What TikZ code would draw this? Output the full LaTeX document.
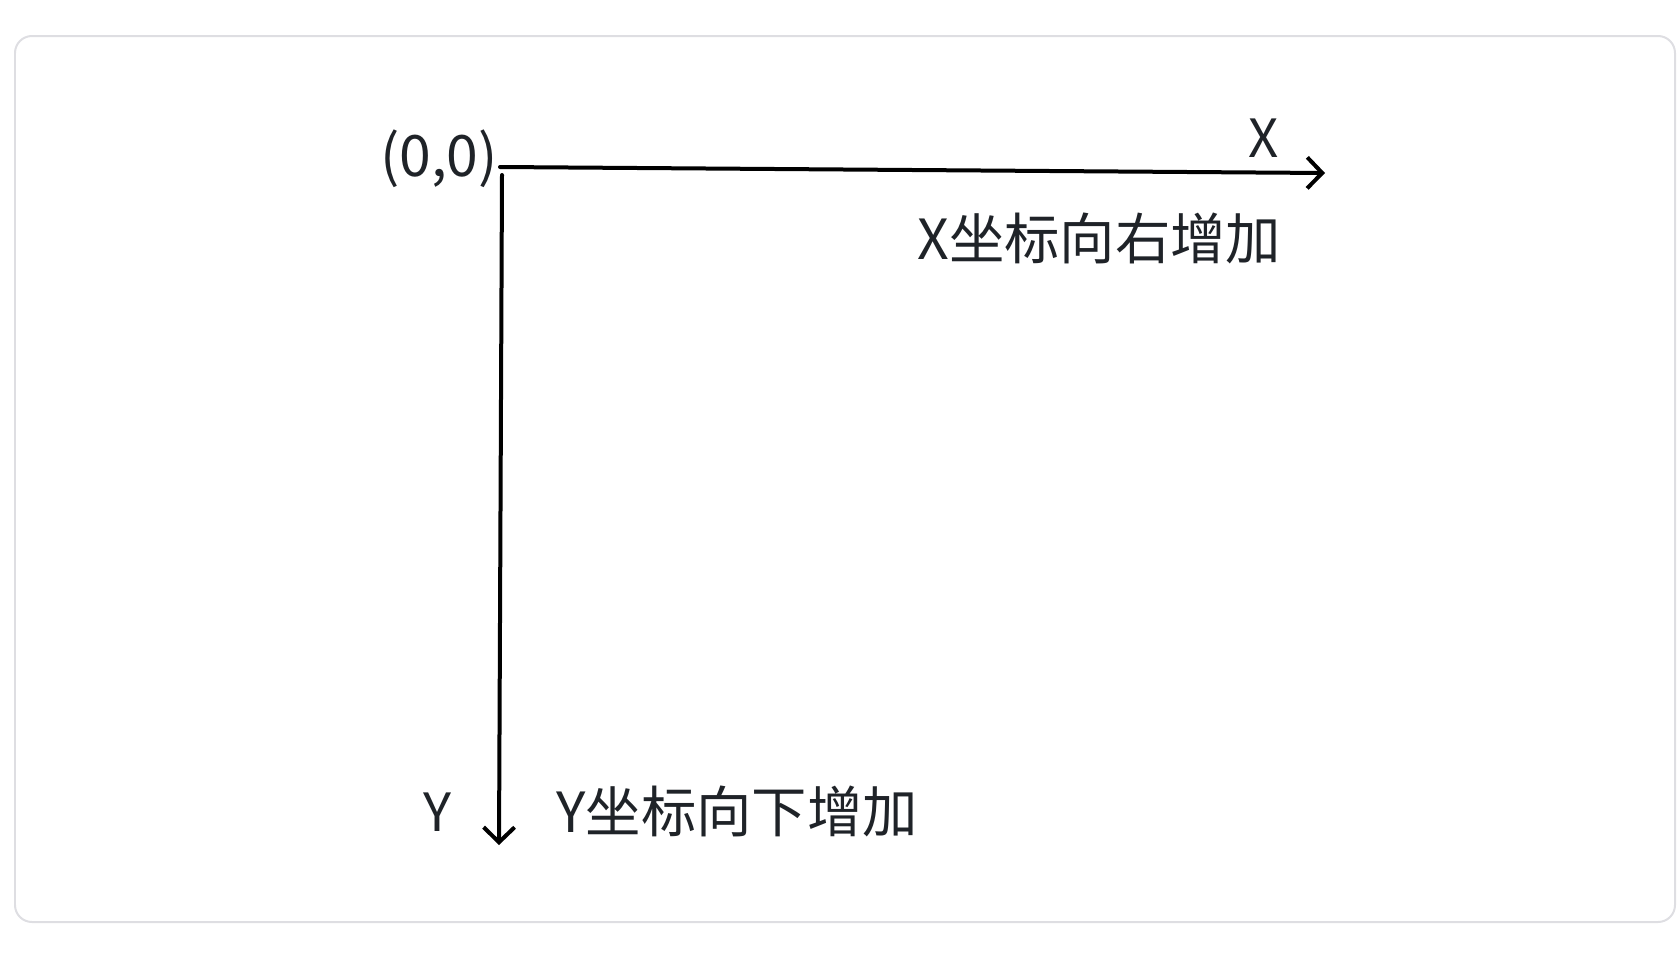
\documentclass[tikz,border=0pt]{standalone}
\usepackage{fontspec}
\setmainfont{Noto Sans CJK SC}
\usetikzlibrary{arrows.meta}
\definecolor{framegray}{HTML}{DEDEE2}
\definecolor{textdark}{HTML}{1F2328}
\begin{document}
\begin{tikzpicture}[x=0.02cm,y=-0.02cm,
  axisline/.style={line width=0.08cm,line cap=round,black,
    -{Straight Barb[length=0.3cm,width=0.62cm,line width=0.08cm]}},
  lbl/.style={inner sep=0,text=textdark,font=\fontsize{30pt}{36pt}\selectfont},
  desc/.style={inner sep=0,text=textdark,font=\fontsize{31.5pt}{38pt}\selectfont}]
\useasboundingbox (0,0) rectangle (1677,957);
\draw[framegray,line width=0.04cm,rounded corners=0.34cm] (15,36) rectangle (1675,922);
\coordinate (O) at (500,167);
\coordinate (Oy) at (502,175);
\coordinate (xend) at (1325,173);
\coordinate (yend) at (499,845);
\draw[axisline] (O) -- (xend);
\draw[axisline] (Oy) -- (yend);
\node[lbl,anchor=base,font=\fontsize{32.5pt}{38pt}\selectfont] (orig) at (439,176) {(0,0)};
\node[lbl,anchor=base] (xlab) at (1264,157) {X};
\node[lbl,anchor=base] (ylab) at (437,831) {Y};
\node[desc,anchor=base west] (xdesc) at (917,259) {X坐标向右增加};
\node[desc,anchor=base west] (ydesc) at (556,832) {Y坐标向下增加};
\end{tikzpicture}
\end{document}
